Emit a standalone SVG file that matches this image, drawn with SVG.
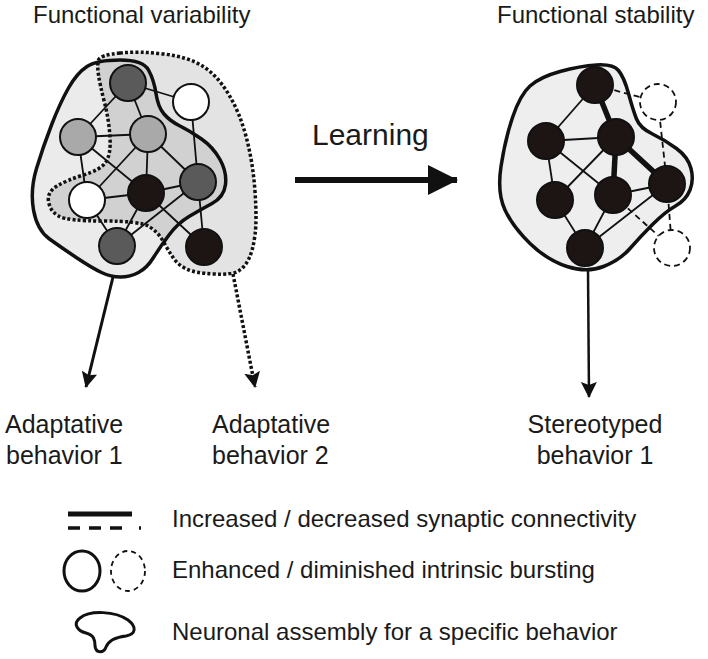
<svg xmlns="http://www.w3.org/2000/svg" width="708" height="659" viewBox="0 0 708 659">
<defs>
<style>
text{font-family:"Liberation Sans",Arial,sans-serif;fill:#1a1a1a}
.t24{font-size:24px}
.t25{font-size:25px}
.solid{fill:#ebebeb;stroke:#111;stroke-width:3.5;stroke-linejoin:round}
.dotted{fill:#000;fill-opacity:0.11;stroke:#111;stroke-width:3.5;stroke-dasharray:3 2.2}
.e{stroke:#111;stroke-width:1.8;fill:none}
.thick{stroke:#111;stroke-width:5.5;fill:none}
.de{stroke:#111;stroke-width:1.8;stroke-dasharray:6 4;fill:none}
.n{stroke:#111;stroke-width:2}
.dk{fill:#5a5a5a}.lg{fill:#a9a9a9}.wh{fill:#fff}.bk{fill:#1c1513}
.dn{fill:#fff;stroke:#111;stroke-width:1.8;stroke-dasharray:6 4}
</style>
<marker id="ah" viewBox="0 0 16 16" markerWidth="16" markerHeight="16" refX="15" refY="8" orient="auto" markerUnits="userSpaceOnUse">
<path d="M0,0 L16,8 L0,16 L3,8 z" fill="#111"/>
</marker>
<marker id="big" viewBox="0 0 30 30" markerWidth="30" markerHeight="30" refX="29" refY="15" orient="auto" markerUnits="userSpaceOnUse">
<path d="M0,0 L30,15 L0,30 z" fill="#111"/>
</marker>
</defs>
<rect width="708" height="659" fill="#fff"/>

<g id="titles">
<text class="t24" x="33" y="23">Functional variability</text>
<text class="t24" x="497" y="23">Functional stability</text>
<text x="312" y="145" style="font-size:30px">Learning</text>
</g>

<g id="assembly-left">
<path class="solid" d="M120,60 Q143,60 148.5,70 Q154,80 156,93.5 Q158,107 164,114 Q170,121 180,126 Q190,131 201.5,139 Q213,147 220,159.5 Q227,172 225.5,184.5 Q224,197 212,203.5 Q200,210 189,216.5 Q178,223 169,235 Q160,247 153.5,257.5 Q147,268 138.5,272.5 Q130,277 120.5,277 Q111,277 101.5,272.5 Q92,268 77,258 Q62,248 49.5,239 Q37,230 33.5,210 Q30,190 36.5,168.5 Q43,147 51.5,125 Q60,103 68.5,88 Q77,73 87,66.5 Q97,60 120,60 Z"/>
<path class="dotted" d="M120,53 Q140,51 164,54 Q188,57 202.5,66 Q217,75 228.5,94 Q240,113 246.5,138 Q253,163 255,191.5 Q257,220 255,235 Q253,250 249,258.5 Q245,267 238.5,271 Q232,275 213.5,274 Q195,273 186.5,269 Q178,265 173,257.5 Q168,250 163,241 Q158,232 149,226.5 Q140,221 103.5,221 Q67,221 58.5,216 Q50,211 48.5,201.5 Q47,192 57,186 Q67,180 83.5,175 Q100,170 105.5,162.5 Q111,155 110,137.5 Q109,120 104.5,102.5 Q100,85 98.5,75 Q97,65 98.5,60 Q100,55 120,53 Z"/>
</g>

<g id="assembly-right">
<path class="solid" style="fill:#eeeeee" d="M560,71.5 Q580,66 596.5,65 Q613,64 618.5,70.5 Q624,77 628.5,93.5 Q633,110 636.5,119 Q640,128 652.5,134 Q665,140 676.5,148.5 Q688,157 691,168.5 Q694,180 690,190 Q686,200 675.5,206 Q665,212 652.5,224.5 Q640,237 630,248.5 Q620,260 603.5,266.5 Q587,273 567,266.5 Q547,260 530,243.5 Q513,227 505,210 Q497,193 501,166.5 Q505,140 512.5,117.5 Q520,95 530,86 Q540,77 560,71.5 Z"/>
</g>

<g id="connectors">
<g id="edges-left">
<line class="e" x1="128" y1="83" x2="191" y2="102"/>
<line class="e" x1="128" y1="83" x2="78" y2="137"/>
<line class="e" x1="128" y1="83" x2="148" y2="134"/>
<line class="e" x1="78" y1="137" x2="148" y2="134"/>
<line class="e" x1="191" y1="102" x2="198" y2="182"/>
<line class="e" x1="148" y1="134" x2="146" y2="193"/>
<line class="e" x1="148" y1="134" x2="198" y2="182"/>
<line class="e" x1="78" y1="137" x2="87" y2="200"/>
<line class="e" x1="78" y1="137" x2="146" y2="193"/>
<line class="e" x1="148" y1="134" x2="87" y2="200"/>
<line class="e" x1="87" y1="200" x2="146" y2="193"/>
<line class="e" x1="146" y1="193" x2="198" y2="182"/>
<line class="e" x1="198" y1="182" x2="204" y2="247"/>
<line class="e" x1="146" y1="193" x2="204" y2="247"/>
<line class="e" x1="146" y1="193" x2="117" y2="246"/>
<line class="e" x1="87" y1="200" x2="117" y2="246"/>
<line class="e" x1="198" y1="182" x2="117" y2="246"/>
</g>
<g id="edges-right">
<line class="e" x1="595" y1="85" x2="546" y2="141"/>
<line class="e" x1="546" y1="141" x2="616" y2="137"/>
<line class="e" x1="546" y1="141" x2="555" y2="200"/>
<line class="e" x1="546" y1="141" x2="613" y2="195"/>
<line class="e" x1="616" y1="137" x2="555" y2="200"/>
<line class="e" x1="555" y1="200" x2="585" y2="248"/>
<line class="e" x1="613" y1="195" x2="585" y2="248"/>
<line class="e" x1="613" y1="195" x2="667" y2="184"/>
<line class="e" x1="667" y1="184" x2="585" y2="248"/>
<line class="thick" x1="595" y1="85" x2="616" y2="137"/>
<line class="thick" x1="616" y1="137" x2="613" y2="195"/>
<line class="thick" x1="616" y1="137" x2="667" y2="184"/>
<line class="de" x1="595" y1="85" x2="658" y2="102"/>
<line class="de" x1="658" y1="102" x2="667" y2="184"/>
<line class="de" x1="613" y1="195" x2="672" y2="248"/>
<line class="de" x1="667" y1="184" x2="672" y2="248"/>
</g>
<line id="arrow-learning" x1="295" y1="180" x2="457" y2="180" stroke="#111" stroke-width="6" marker-end="url(#big)"/>
<line id="arrow-b1" x1="113" y1="277" x2="86" y2="387" stroke="#111" stroke-width="3" marker-end="url(#ah)"/>
<line id="arrow-b2" x1="233" y1="274" x2="255" y2="387" stroke="#111" stroke-width="3.5" stroke-dasharray="3 2.2" marker-end="url(#ah)"/>
<line id="arrow-s1" x1="588" y1="270" x2="589" y2="397" stroke="#111" stroke-width="2.5" marker-end="url(#ah)"/>
</g>

<g id="nodes-left">
<circle class="n dk" cx="128" cy="83" r="18"/>
<circle class="n wh" cx="191" cy="102" r="18"/>
<circle class="n lg" cx="78" cy="137" r="18"/>
<circle class="n lg" cx="148" cy="134" r="18"/>
<circle class="n wh" cx="87" cy="200" r="18"/>
<circle class="n bk" cx="146" cy="193" r="18"/>
<circle class="n dk" cx="198" cy="182" r="18"/>
<circle class="n dk" cx="117" cy="246" r="18"/>
<circle class="n bk" cx="204" cy="247" r="18"/>
</g>

<g id="nodes-right">
<circle class="n bk" cx="595" cy="85" r="18"/>
<circle class="n bk" cx="546" cy="141" r="18"/>
<circle class="n bk" cx="616" cy="137" r="18"/>
<circle class="n bk" cx="667" cy="184" r="18"/>
<circle class="n bk" cx="555" cy="200" r="18"/>
<circle class="n bk" cx="613" cy="195" r="18"/>
<circle class="n bk" cx="585" cy="248" r="18"/>
<circle class="dn" cx="658" cy="102" r="18"/>
<circle class="dn" cx="672" cy="248" r="18"/>
</g>

<g id="labels">
<text class="t25" x="5" y="433">Adaptative</text>
<text class="t25" x="6" y="464">behavior 1</text>
<text class="t25" x="212" y="433">Adaptative</text>
<text class="t25" x="212" y="464">behavior 2</text>
<text class="t25" x="595" y="433" text-anchor="middle">Stereotyped</text>
<text class="t25" x="595" y="464" text-anchor="middle">behavior 1</text>
</g>

<g id="legend">
<line x1="68" y1="514" x2="132" y2="514" stroke="#111" stroke-width="5"/>
<line x1="68" y1="528" x2="141" y2="528" stroke="#111" stroke-width="3.5" stroke-dasharray="12 9 12 9 12 17 2 50"/>
<text class="t24" x="172" y="527">Increased / decreased synaptic connectivity</text>
<ellipse cx="82" cy="571" rx="18" ry="20" fill="none" stroke="#111" stroke-width="3"/>
<ellipse cx="128" cy="571" rx="17" ry="20" fill="none" stroke="#111" stroke-width="1.8" stroke-dasharray="5 4"/>
<text class="t24" x="172" y="578">Enhanced / diminished intrinsic bursting</text>
<path d="M80,618 C90,610 115,611 128,620 C137,627 136,634 126,636 C116,637 109,640 106,647 C104,653 96,654 95,646 C95,640 94,635 86,633 C78,631 72,624 80,618 Z" fill="none" stroke="#111" stroke-width="3"/>
<text class="t24" x="172" y="640">Neuronal assembly for a specific behavior</text>
</g>
</svg>
